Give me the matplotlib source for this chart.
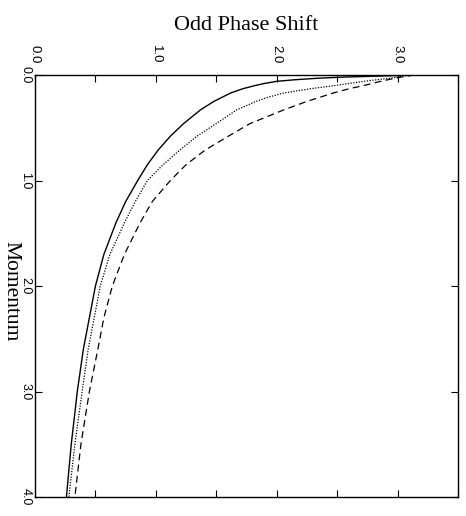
import matplotlib
matplotlib.use("Agg")
import matplotlib.pyplot as plt
from matplotlib.ticker import MultipleLocator

# Momentum grid (shared by all three curves)
momentum = [0, 0.01, 0.02, 0.03, 0.045, 0.06, 0.08, 0.1, 0.13, 0.17, 0.21, 0.25, 0.33, 0.46, 0.58, 0.71, 0.85,
            1.0, 1.2, 1.4, 1.7, 2.0, 2.3, 2.6, 3.0, 3.5, 4.0]
phase_solid = [3.14, 2.85, 2.55, 2.35, 2.15, 2.0, 1.9, 1.82, 1.72, 1.62, 1.55, 1.48, 1.37, 1.23, 1.12, 1.02, 0.93,
               0.85, 0.75, 0.67, 0.57, 0.50, 0.45, 0.40, 0.35, 0.30, 0.26]
phase_dotted = [3.14, 3.05, 3.0, 2.94, 2.83, 2.72, 2.6, 2.48, 2.28, 2.06, 1.93, 1.83, 1.67, 1.50, 1.34, 1.20, 1.06,
                0.93, 0.83, 0.74, 0.62, 0.54, 0.49, 0.44, 0.39, 0.33, 0.28]
phase_dashed = [3.14, 3.08, 3.03, 2.98, 2.92, 2.86, 2.79, 2.72, 2.6, 2.47, 2.36, 2.25, 2.06, 1.78, 1.60, 1.41, 1.25,
                1.12, 0.97, 0.87, 0.74, 0.64, 0.57, 0.52, 0.45, 0.38, 0.33]
x_ticks = [0.0, 1.0, 2.0, 3.0]
y_ticks = [0.0, 1.0, 2.0, 3.0, 4.0]

fig = plt.figure(figsize=(4.66, 5.16), dpi=100)
ax = fig.add_axes([35/466, 1-497/516, (458-35)/466, (497-75)/516])

ax.plot(phase_solid, momentum, color='black', lw=1.0, ls='-')
ax.plot(phase_dotted, momentum, color='black', lw=0.9, ls=(0, (1, 1.2)))
ax.plot(phase_dashed, momentum, color='black', lw=0.9, ls=(0, (5.5, 3.5)))

ax.set_xlim(0, 3.5)
ax.set_ylim(4.0, 0.0)

ax.xaxis.tick_top()
ax.set_xticks(x_ticks)
ax.set_xticklabels([f"{v:.1f}" for v in x_ticks])
ax.xaxis.set_minor_locator(MultipleLocator(0.5))
ax.set_yticks(y_ticks)
ax.set_yticklabels([f"{v:.1f}" for v in y_ticks])

ax.tick_params(axis='x', which='both', direction='in', top=True, bottom=True,
               length=5, width=0.8, pad=8.5, labelsize=9.5)
ax.tick_params(axis='y', which='both', direction='in', left=True, right=True,
               length=5, width=0.8, pad=2.5, labelsize=9)
for lab in ax.get_xticklabels():
    lab.set_rotation(-90)
    lab.set_family('Liberation Sans')
    lab.set_va('bottom')
    lab.set_ha('center')
for lab in ax.get_yticklabels():
    lab.set_rotation(-90)
    lab.set_family('Liberation Sans')
    lab.set_va('center')
    lab.set_ha('right')
for s in ax.spines.values():
    s.set_linewidth(1.0)

fig.text(246/466, 1-25/516, "Odd Phase Shift", family='Liberation Serif',
         fontsize=16, ha='center', va='center')
fig.text(11/466, 1-291/516, "Momentum", family='Liberation Serif',
         fontsize=15.5, rotation=-90, ha='center', va='center')

fig.savefig("out.png", dpi=100)
